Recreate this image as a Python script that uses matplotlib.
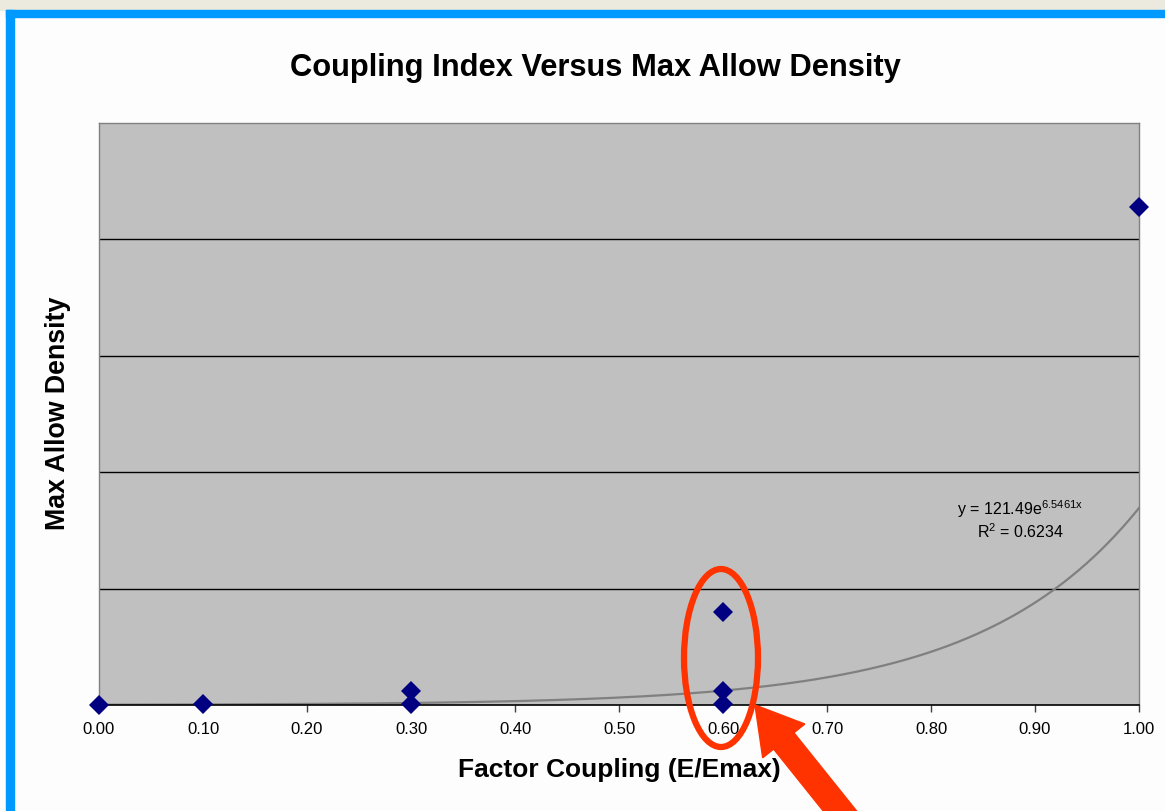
import numpy as np
import matplotlib.pyplot as plt
import matplotlib.patches as mpatches
from matplotlib.transforms import IdentityTransform

# Coupling factor vs. max allowable density
coupling = [0.00, 0.10, 0.30, 0.30, 0.60, 0.60, 0.60, 1.00]
density = [120, 300, 400, 6000, 400, 6000, 40000, 214000]

# Excel exponential trendline
fit_a = 121.49
fit_b = 6.5461
fit_r2 = 0.6234

x_ticks = [0.0, 0.1, 0.2, 0.3, 0.4, 0.5, 0.6, 0.7, 0.8, 0.9, 1.0]
y_grid = [0, 50000, 100000, 150000, 200000, 250000]

plt.rcParams['font.family'] = ['Liberation Sans', 'DejaVu Sans']
plt.rcParams['mathtext.default'] = 'regular'

W, H = 1165, 811
fig = plt.figure(figsize=(W / 100, H / 100), dpi=100)
fig.patch.set_facecolor('#fdfdfd')

# slide strip and blue frame round the chart
px = IdentityTransform()
fig.patches.append(mpatches.Rectangle((0, H - 10), W, 10, color='#ece9df', transform=px, zorder=0))
fig.patches.append(mpatches.Rectangle((6, 0), 8, H - 10, color='#0099ff', transform=px, zorder=1))
fig.patches.append(mpatches.Rectangle((6, H - 17), W - 6, 7, color='#0099ff', transform=px, zorder=1))

ax = fig.add_axes([99 / W, (H - 705) / H, (1139 - 99) / W, (705 - 123) / H])
ax.set_facecolor('#c0c0c0')
ax.set_xlim(0, 1.0)
ax.set_ylim(0, 250000)

for y in y_grid[1:-1]:
    ax.axhline(y, color='black', lw=1, zorder=1)

xs = np.linspace(0, 1, 300)
ax.plot(xs, fit_a * np.exp(fit_b * xs), color='#808080', lw=1.6, zorder=2)

ax.plot(coupling, density, ls='none', marker='D', ms=10, color='#000080',
        markeredgewidth=0, zorder=3, clip_on=False)

ax.text(0.886, 84000, r'y = 121.49e$^{6.5461x}$', ha='center', va='center', fontsize=11.5)
ax.text(0.886, 74500, r'R$^{2}$ = ' + f'{fit_r2:.4f}', ha='center', va='center', fontsize=11.5)

ax.set_xticks(x_ticks)
ax.set_xticklabels([f'{t:.2f}' for t in x_ticks])
ax.set_yticks([])
ax.tick_params(axis='x', length=5, width=1, color='#404040', labelsize=12, pad=7)
for side in ['left', 'top', 'right']:
    ax.spines[side].set_color('#808080')
    ax.spines[side].set_linewidth(1)
ax.spines['bottom'].set_color('black')
ax.spines['bottom'].set_linewidth(1.2)

fig.text(619 / W, 1 - 770 / H, 'Factor Coupling (E/Emax)',
         ha='center', va='center', fontsize=19, fontweight='bold')
fig.text(58 / W, 1 - 413 / H, 'Max Allow Density', rotation=90,
         ha='center', va='center', fontsize=19.3, fontweight='bold')
fig.text(595 / W, 1 - 68 / H, 'Coupling Index Versus Max Allow Density',
         ha='center', va='center', fontsize=22.2, fontweight='bold')

# highlight on the 0.60 group
fig.patches.append(mpatches.Ellipse((721, H - 658), 74, 178, fill=False, ec='#ff3300',
                                    lw=4.5, transform=px, zorder=10))
fig.patches.append(mpatches.FancyArrow(860, -25, 755 - 860, (H - 705) + 25, width=26,
                                       head_width=54, head_length=46, length_includes_head=True,
                                       color='#ff3300', transform=px, zorder=11))

fig.savefig('out.png', dpi=100, facecolor=fig.get_facecolor())
